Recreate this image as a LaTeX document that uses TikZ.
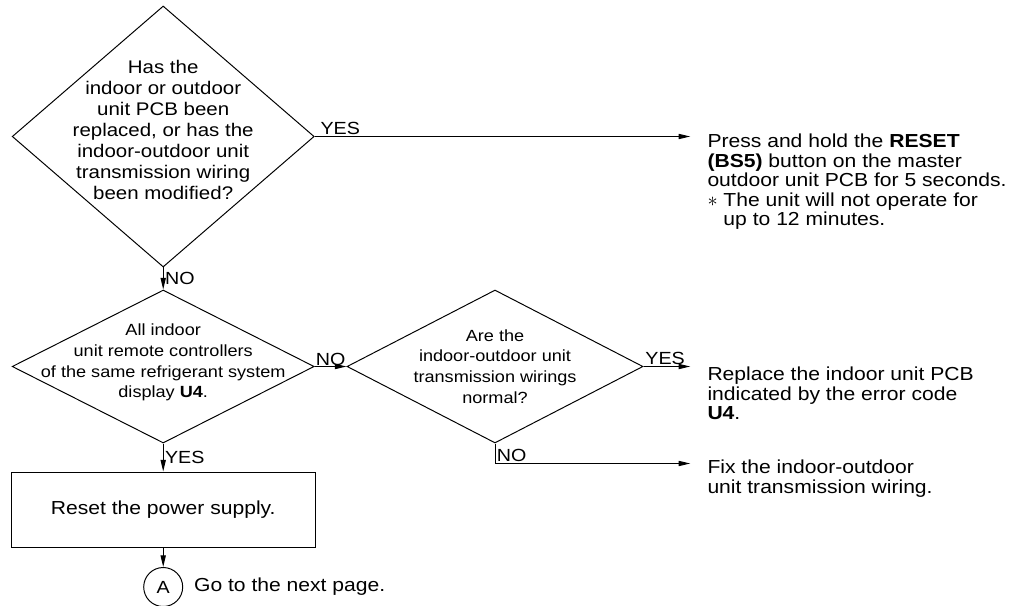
\documentclass[tikz,border=0pt]{standalone}
\usepackage{fontspec}
\setmainfont{Liberation Sans}[FakeStretch=1.12]
\usetikzlibrary{
  shapes.geometric,
  arrows.meta,
  positioning
}

\begin{document}
\begin{tikzpicture}[
  line width=0.7pt,
  %% ── node styles ────────────────────────────────────────────────────
  %% Decision diamonds (empty; their text sits on top of them)
  Q/.style  ={diamond, draw, inner sep=0pt, minimum width=7.55cm},
  QT/.style ={align=center, inner sep=0pt,
              font=\fontsize{11.5}{14.8}\selectfont},
  %% Free text to the right of the arrows
  T/.style  ={align=left, inner sep=0pt, anchor=north west,
              font=\fontsize{13.4}{13.9}\selectfont},
  %% Action box and connector circle
  B/.style  ={rectangle, draw, minimum width=7.6cm, minimum height=1.875cm,
              font=\fontsize{13.4}{16}\selectfont},
  C/.style  ={circle, draw, minimum size=0.975cm, inner sep=0pt,
              font=\fontsize{12.5}{15}\selectfont},
  %% YES / NO labels and arrows
  lbl/.style={inner sep=1pt, font=\fontsize{12.5}{15}\selectfont},
  arr/.style={-{Triangle[length=2.9mm,width=1.3mm]}},
]
\useasboundingbox (0,0) rectangle (25.5,-15.125);

%% Row 0 — PCB / wiring question
\node[Q, minimum height=6.525cm] (q1) at (4.08,-3.4125) {};
\node[QT, font=\fontsize{13}{15}\selectfont] (q1t) at ([yshift=0.16cm]q1.center)
  {Has the\\indoor or outdoor\\unit PCB been\\replaced, or has the\\
   indoor-outdoor unit\\transmission wiring\\been modified?};

\node[T] (press) at (17.675,-3.3375)
  {Press and hold the \textbf{RESET}\\
   \textbf{(BS5)} button on the master\\
   outdoor unit PCB for 5 seconds.\\
   $\ast$ The unit will not operate for\\
   \hphantom{$\ast$} up to 12 minutes.};

\draw[arr, shorten >=0.42cm] (q1.east)
  -- node[lbl, at start, anchor=south west, xshift=0.1cm] (yes1) {YES}
  (q1.east -| press.west);

%% Row 1 — U4 display question and wiring check
\node[Q, minimum height=3.825cm] (q2) at (4.08,-9.1625) {};
\node[QT] (q2t) at ([yshift=0.1cm]q2.center)
  {All indoor\\unit remote controllers\\of the same refrigerant system\\
   display \textbf{U4}.};

\draw[arr] (q1.south) -- node[lbl, right] (no1) {NO} (q2.north);

\node[Q, minimum width=7.4cm, minimum height=3.825cm] (q3) at (12.375,-9.1625) {};
\node[QT] (q3t) at (q3.center)
  {Are the\\indoor-outdoor unit\\transmission wirings\\normal?};

\draw[arr] (q2.east)
  -- node[lbl, at start, anchor=south west, inner sep=0.5pt] (no2) {NO}
  (q3.west);

\node[T] (repl) at (17.675,-9.16)
  {Replace the indoor unit PCB\\indicated by the error code\\\textbf{U4}.};

\draw[arr, shorten >=0.42cm] (q3.east)
  -- node[lbl, at start, anchor=south west] (yes3) {YES}
  (q3.east -| repl.west);

\coordinate (q3turn) at ([yshift=-0.5cm]q3.south);
\node[T] (fix) at (17.675,-11.49)
  {Fix the indoor-outdoor\\unit transmission wiring.};

\draw[arr, shorten >=0.42cm] (q3.south) -- (q3turn)
  -- node[lbl, at start, anchor=south west] (no3) {NO}
  (q3turn -| fix.west);

%% Row 2 — power reset and page connector
\node[B] (reset) at (4.08,-12.7375) {Reset the power supply.};
\draw[arr] (q2.south) -- node[lbl, right] (yes2) {YES} (reset.north);

\node[C] (pageA) at (4.08,-14.675) {A};
\draw[arr] (reset.south) -- (pageA.north);

\node[T, right=0.26cm of pageA] (next) {Go to the next page.};

\end{tikzpicture}
\end{document}
